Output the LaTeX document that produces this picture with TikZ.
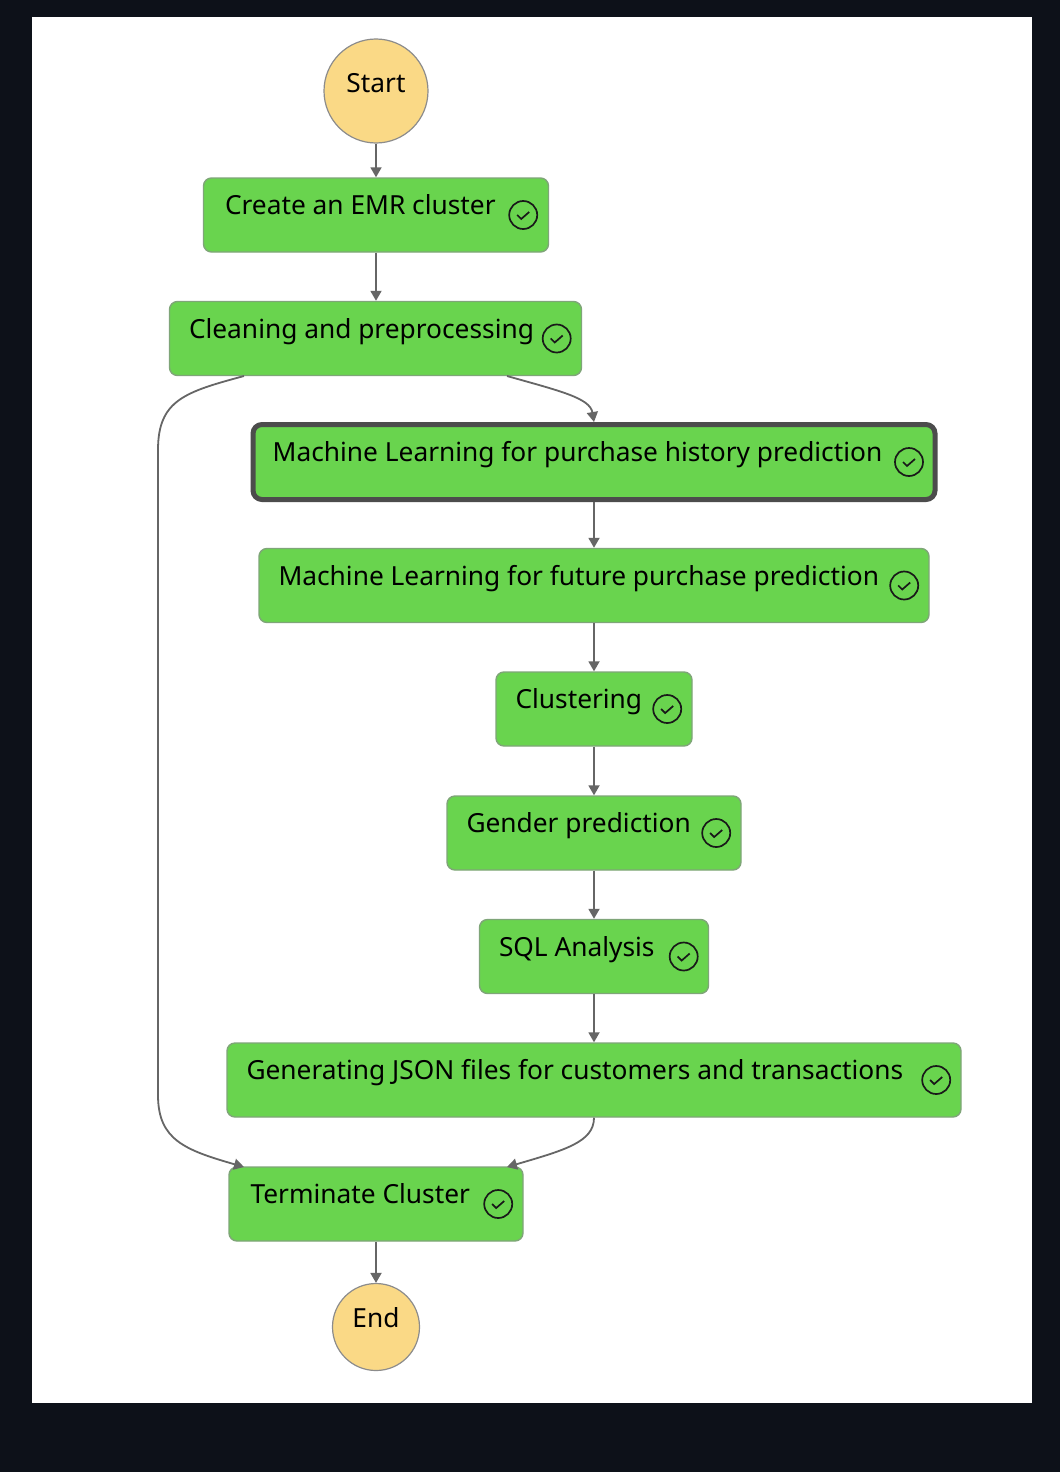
\documentclass[tikz,border=0pt]{standalone}
\usepackage{fontspec}
\setmainfont{Noto Sans}
\usetikzlibrary{arrows.meta}
\definecolor{pagedark}{HTML}{0D1119}
\definecolor{stepgreen}{HTML}{69D44E}
\definecolor{stepedge}{HTML}{7FA578}
\definecolor{termyellow}{HTML}{FAD986}
\definecolor{flowgray}{HTML}{666666}
\tikzset{%
  stepbox/.style  = {shape=rectangle, rounded corners=8pt, draw=stepedge, line width=1.4pt,%
                     fill=stepgreen, minimum height=74pt},%
  activebox/.style = {stepbox, draw=black!70, line width=5pt, rounded corners=9pt},%
  steptext/.style = {font=\fontsize{26.3}{31}\selectfont, text=black, anchor=base west, inner sep=0pt},%
  tickmark/.style = {circle, draw=black!90, line width=1.7pt, inner sep=0pt, minimum size=28pt},%
  endpoint/.style = {circle, draw=black!45, line width=1.2pt, fill=termyellow, inner sep=0pt,%
                     font=\fontsize{26.3}{31}\selectfont},%
  flow/.style     = {draw=flowgray, line width=1.8pt, -{Triangle[length=10pt,width=11pt]}}%
}
\begin{document}
\begin{tikzpicture}[x=1pt,y=-1pt]
  \useasboundingbox[fill=pagedark] (0,0) rectangle (1060,1472);
  \fill[white] (32,17) rectangle (1032,1403);
  % states
  \node [endpoint, minimum size=104pt] (start) at (376,91) {};
  \node [stepbox, minimum width=345pt] (emr) at (376,215) {};
  \node [stepbox, minimum width=412pt] (clean) at (375.5,338.5) {};
  \node [activebox, minimum width=682pt, minimum height=75pt] (history) at (594,462) {};
  \node [stepbox, minimum width=670pt] (future) at (594,585.5) {};
  \node [stepbox, minimum width=196pt] (cluster) at (594,709) {};
  \node [stepbox, minimum width=294pt] (gender) at (594,833) {};
  \node [stepbox, minimum width=229pt] (sql) at (594,956.5) {};
  \node [stepbox, minimum width=734pt] (json) at (594,1080) {};
  \node [stepbox, minimum width=294pt] (term) at (376,1204) {};
  \node [endpoint, minimum size=87pt] (end) at (376,1327) {};
  % labels
  \node [endpoint, draw=none, fill=none] (startlabel) at (376,83) {Start};
  \node [endpoint, draw=none, fill=none] (endlabel) at (376,1318) {End};
  \foreach \stepname/\steplabel/\textshift/\tickshift in {emr/Create an EMR cluster/22/26,
      clean/Cleaning and preprocessing/20/25.5,
      history/Machine Learning for purchase history prediction/22/28.5,
      future/Machine Learning for future purchase prediction/20/25.5, cluster/Clustering/20/25.5,
      gender/Gender prediction/20/25.5, sql/SQL Analysis/20/25.5,
      json/Generating JSON files for customers and transactions/20/25.5,
      term/Terminate Cluster/22/25.5}{
    \node [steptext] (\stepname label) at ([xshift=\textshift pt,yshift=0.5pt]\stepname.west) {\steplabel};
    \node [tickmark] (\stepname tick) at ([xshift=-\tickshift pt]\stepname.east) {};
    \draw [black!90, line width=1.7pt] ([xshift=-6pt]\stepname tick.center) -- ++(4,4) -- ++(8,-7);
  }
  % straight connectors
  \draw [flow] (start) -- (emr);
  \draw [flow] (emr) -- (emr |- clean.north);
  \draw [flow] (history) -- (future);
  \draw [flow] (future) -- (cluster);
  \draw [flow] (cluster) -- (gender);
  \draw [flow] (gender) -- (sql);
  \draw [flow] (sql) -- (json);
  \draw [flow] (term) -- (end);
  % curved connectors
  \coordinate (cleanleft) at (244,376);
  \coordinate (cleanright) at (507,376);
  \coordinate (termleft) at (244,1167);
  \coordinate (termright) at (507,1167);
  \draw [flow] (cleanright) .. controls (560,391) and (590,398) .. (history.north);
  \draw [flow] (cleanleft) .. controls (185,392) and (158,400) .. (158,450) -- (158,1095)
    .. controls (158,1140) and (185,1150) .. (termleft);
  \draw [flow] (json.south) .. controls (594,1142) and (565,1150) .. (termright);
\end{tikzpicture}
\end{document}
